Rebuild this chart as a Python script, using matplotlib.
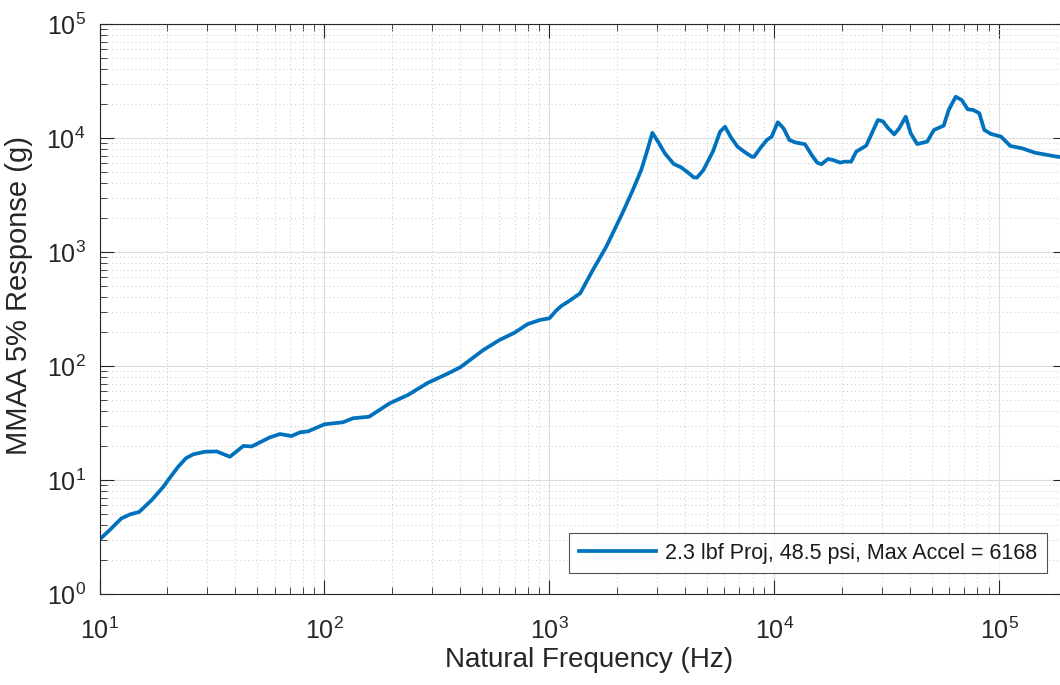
#!/usr/bin/env python3
"""
MMAA 5% shock response spectrum on log-log axes, MATLAB look.
"""

import matplotlib as mpl
mpl.use('Agg')
import matplotlib.pyplot as plt
from matplotlib.ticker import LogLocator, NullFormatter

# values
freq = [10, 11.1, 12.5, 13.7, 15.0, 17.1, 19.2, 20.5, 22.4, 24.2, 26.1, 29.4,
        33.2, 38.0, 43.6, 47.5, 57.3, 63.4, 71.4, 77.9, 84.5, 100, 121, 134,
        158, 195, 235, 289, 350, 402, 508, 600, 700, 800, 906, 1000, 1077,
        1130, 1210, 1370, 1560, 1790, 2110, 2350, 2560, 2700, 2870, 3040,
        3260, 3570, 3850, 4140, 4380, 4530, 4840, 5330, 5740, 6040, 6410,
        6860, 7340, 7940, 8130, 8650, 9260, 9730, 10360, 10980, 11670, 12360,
        13690, 14650, 15500, 16180, 17330, 18230, 19620, 20490, 21950, 23120,
        25610, 28870, 30350, 31940, 34100, 35900, 38380, 40380, 43170, 47800,
        51200, 56600, 59600, 64000, 68100, 72400, 76700, 81500, 85800, 92100,
        101800, 112000, 126000, 144000, 181000, 200000]
resp = [3.0, 3.64, 4.6, 5.0, 5.24, 6.7, 8.7, 10.4, 13.1, 15.5, 16.8, 17.7,
        17.8, 16.0, 19.9, 19.7, 23.7, 25.3, 24.3, 26.2, 26.7, 30.8, 32.1, 34.8,
        35.9, 47.1, 55.7, 71.4, 85, 97.5, 138, 169, 196, 233, 253, 262, 309,
        336, 366, 434, 695, 1114, 2184, 3500, 5240, 7340, 11100, 9290,
        7340, 5920, 5530, 4960, 4520, 4490, 5240, 7590, 11360, 12560, 10140,
        8390, 7590, 6850, 6850, 8130, 9600, 10280, 13750, 12170, 9600, 9160,
        8810, 7100, 6080, 5880, 6550, 6410, 6080, 6200, 6200, 7590,
        8570, 14390, 14010, 12300, 10760, 12170, 15380, 10990, 8850, 9290,
        11750, 12830, 17610, 23000, 21530, 17850, 17600, 16500, 11750, 10840,
        10280, 8510, 8130, 7430, 6850, 6700]
label = "2.3 lbf Proj, 48.5 psi, Max Accel = 6168"

fam = 'Liberation Sans'
mpl.rcParams.update({'font.family': fam,
                     'mathtext.fontset': 'custom',
                     'mathtext.rm': fam,
                     'mathtext.it': fam + ':italic',
                     'font.size': 18})

W, H = 1060, 685
fig = plt.figure(figsize=(W / 100, H / 100), dpi=100)
# right spine sits just past the picture edge, as in the reference
ax = fig.add_axes([99.5 / W, (H - 594) / H, (1067 - 99.5) / W, 570 / H])

ax.loglog(freq, resp, color='#0072BD', lw=2.7, label=label)

ax.set_xlim(10, 2e5)
ax.set_ylim(1, 1e5)
ax.set_xlabel("Natural Frequency (Hz)", fontsize=20, color='#262626')
ax.set_ylabel("MMAA 5% Response (g)", fontsize=21, color='#262626')
ax.xaxis.set_label_coords(0.506, -0.093, transform=ax.transAxes)
ax.yaxis.set_label_coords(-0.069, 0.523, transform=ax.transAxes)

ax.xaxis.set_major_locator(LogLocator(base=10, numticks=10))
ax.yaxis.set_major_locator(LogLocator(base=10, numticks=10))
ax.xaxis.set_minor_locator(LogLocator(base=10, subs=range(2, 10), numticks=20))
ax.yaxis.set_minor_locator(LogLocator(base=10, subs=range(2, 10), numticks=20))
ax.xaxis.set_minor_formatter(NullFormatter())
ax.yaxis.set_minor_formatter(NullFormatter())

ax.tick_params(which='both', direction='in', top=True, right=True,
               color='#262626', labelcolor='#262626')
ax.tick_params(which='major', length=10, width=0.8, labelsize=18)
ax.tick_params(axis='x', which='major', pad=17)
ax.tick_params(axis='y', which='major', pad=10)
ax.tick_params(which='minor', length=5, width=0.6)
for s in ax.spines.values():
    s.set_color('#262626')
    s.set_linewidth(0.8)

ax.grid(which='major', color='#dcdcdc', lw=0.8, ls='-')
ax.grid(which='minor', color='#c8c8c8', lw=0.7, ls=(0, (1, 3)))
ax.set_axisbelow(True)

leg = ax.legend(loc='lower right', bbox_to_anchor=((1046.7 - 99.5) / (1067 - 99.5), (594 - 573.3) / 570),
                fontsize=15.5, frameon=True, fancybox=False, handlelength=3.6,
                borderpad=0.45, handletextpad=0.4, borderaxespad=0)
leg.get_frame().set_edgecolor('#262626')
leg.get_frame().set_linewidth(0.8)
for t in leg.get_texts():
    t.set_color('#1a1a1a')

plt.savefig("out.png", dpi=100)
